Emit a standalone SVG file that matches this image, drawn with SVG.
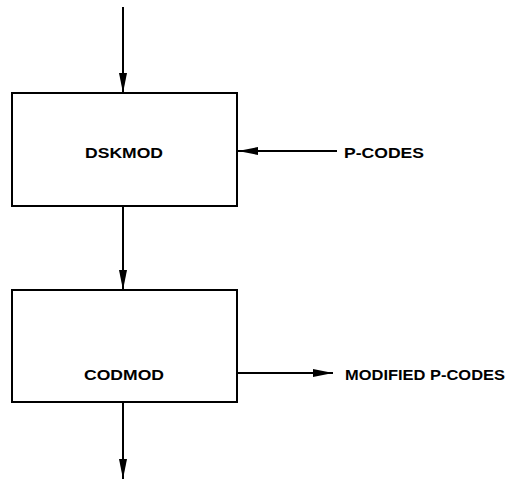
<svg xmlns="http://www.w3.org/2000/svg" width="518" height="488" viewBox="0 0 518 488">
<style>
.box{fill:#fff;stroke:#000;stroke-width:2}
.ln{stroke:#000;stroke-width:2;fill:none}
text{font-family:"Liberation Sans",Arial,sans-serif;font-size:15px;font-weight:bold;fill:#000}
</style>
<defs>
<marker id="ahv" viewBox="0 0 10 10" refX="10" refY="5" markerWidth="20" markerHeight="8" markerUnits="userSpaceOnUse" orient="auto" preserveAspectRatio="none">
<path d="M0,0 L10,5 L0,10 z" fill="#000"/>
</marker>
</defs>
<g id="connectors">
<line class="ln" x1="123" y1="7" x2="123" y2="93" marker-end="url(#ahv)"/>
<line class="ln" x1="123" y1="206" x2="123" y2="290" marker-end="url(#ahv)"/>
<line class="ln" x1="123" y1="402" x2="123" y2="479" marker-end="url(#ahv)"/>
<line class="ln" x1="337" y1="151" x2="238" y2="151" marker-end="url(#ahv)"/>
<line class="ln" x1="237" y1="373" x2="333" y2="373" marker-end="url(#ahv)"/>
</g>
<g id="dskmod">
<rect class="box" x="12" y="93" width="225" height="113"/>
<text x="85" y="158" textLength="78" lengthAdjust="spacingAndGlyphs">DSKMOD</text>
</g>
<g id="codmod">
<rect class="box" x="12" y="290" width="225" height="112"/>
<text x="84" y="380" textLength="80" lengthAdjust="spacingAndGlyphs">CODMOD</text>
</g>
<g id="pcodes">
<text x="344" y="158" textLength="80" lengthAdjust="spacingAndGlyphs">P-CODES</text>
</g>
<g id="modified">
<text x="345" y="380" textLength="160" lengthAdjust="spacingAndGlyphs">MODIFIED P-CODES</text>
</g>
</svg>
